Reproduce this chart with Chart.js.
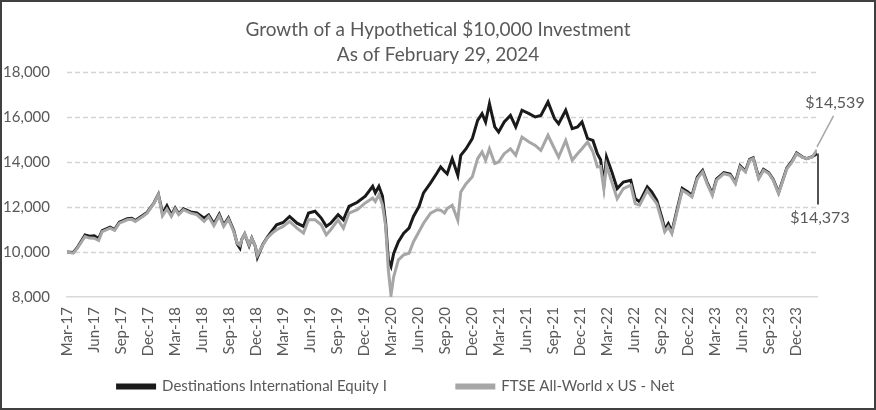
<!DOCTYPE html>
<html>
<head>
<meta charset="utf-8">
<script src="https://cdn.jsdelivr.net/npm/chart.js@4.4.1/dist/chart.umd.min.js"></script>
<style>
  html, body { margin: 0; padding: 0; background: #fff; }
  canvas { display: block; }
</style>
</head>
<body>
<canvas id="growthChart" width="876" height="410"></canvas>
<script>
// dates of the readings (axis starts at fund inception 2017-03-20)
const dates = [
  '2017-03-20','2017-04-10','2017-04-23','2017-05-20','2017-06-04','2017-06-20','2017-07-05','2017-07-17','2017-08-13','2017-08-28',
  '2017-09-13','2017-10-10','2017-10-25','2017-11-06','2017-12-01','2017-12-16','2018-01-09','2018-01-23','2018-01-31','2018-02-06',
  '2018-02-21','2018-03-08','2018-03-21','2018-04-02','2018-04-18','2018-05-12','2018-06-02','2018-06-27','2018-07-12','2018-07-30',
  '2018-08-17','2018-09-01','2018-09-17','2018-10-05','2018-10-17','2018-10-26','2018-11-01','2018-11-11','2018-11-26','2018-12-05',
  '2018-12-17','2018-12-24','2019-01-11','2019-01-26','2019-02-12','2019-02-27','2019-03-21','2019-04-12','2019-05-07','2019-05-29',
  '2019-06-15','2019-07-07','2019-07-28','2019-08-14','2019-08-29','2019-09-23','2019-10-11','2019-10-30','2019-11-27','2019-12-24',
  '2020-01-18','2020-01-27','2020-02-08','2020-02-20','2020-03-02','2020-03-11','2020-03-20','2020-03-29','2020-04-14','2020-05-02',
  '2020-05-20','2020-06-04','2020-06-23','2020-07-08','2020-08-01','2020-08-23','2020-09-04','2020-09-17','2020-09-26','2020-10-13',
  '2020-11-01','2020-11-11','2020-11-29','2020-12-20','2021-01-07','2021-01-22','2021-02-03','2021-02-16','2021-03-06','2021-03-19',
  '2021-04-07','2021-04-28','2021-05-16','2021-06-06','2021-06-30','2021-07-21','2021-08-09','2021-09-02','2021-09-24','2021-10-08',
  '2021-11-01','2021-11-23','2021-12-11','2021-12-26','2022-01-14','2022-02-01','2022-02-16','2022-02-27','2022-03-10','2022-03-19',
  '2022-04-06','2022-04-24','2022-05-15','2022-06-09','2022-06-24','2022-07-09','2022-08-04','2022-08-19','2022-09-05','2022-09-23',
  '2022-10-02','2022-10-14','2022-10-26','2022-11-14','2022-11-30','2022-12-18','2023-01-02','2023-01-20','2023-02-07','2023-02-22',
  '2023-03-12','2023-03-26','2023-04-20','2023-05-11','2023-05-29','2023-06-14','2023-07-02','2023-07-16','2023-07-28','2023-08-16',
  '2023-09-01','2023-09-19','2023-10-04','2023-10-22','2023-11-04','2023-11-19','2023-12-07','2023-12-22','2024-01-10','2024-01-25',
  '2024-02-13','2024-02-29'
];
// Destinations International Equity I
const fundValues = [
  10000,9980,10180,10760,10700,10720,10600,10950,11100,11000,
  11330,11480,11500,11400,11620,11760,12200,12560,12100,11700,
  12060,11650,11960,11700,11920,11780,11740,11500,11650,11250,
  11680,11200,11520,10960,10350,10170,10560,10800,10280,10620,
  10250,9760,10320,10640,10950,11210,11310,11580,11280,11140,
  11730,11810,11510,11140,11280,11660,11430,12030,12210,12480,
  12920,12630,12920,12480,11280,9650,9360,9940,10460,10840,
  11060,11580,12030,12630,13070,13520,13780,13590,13480,14150,
  13410,14300,14590,15040,15850,16150,15780,16590,15560,15330,
  15780,16070,15560,16300,16150,16000,16070,16670,15930,15700,
  16300,15480,15560,15780,15040,14960,14370,14100,13000,14220,
  13560,12820,13110,13190,12370,12230,12890,12670,12300,11490,
  11000,11260,10900,11950,12830,12680,12520,13320,13620,13100,
  12580,13240,13530,13460,13090,13830,13600,14120,14190,13300,
  13670,13520,13230,12640,13150,13740,14050,14400,14230,14150,
  14240,14373
];
// FTSE All-World x US - Net
const indexValues = [
  10000,9950,10150,10690,10620,10610,10510,10910,11060,10960,
  11280,11430,11450,11360,11580,11730,12180,12550,12030,11610,
  11910,11580,11910,11660,11880,11730,11660,11360,11580,11170,
  11610,11140,11460,10910,10390,10300,10540,10810,10320,10610,
  10250,9850,10300,10610,10840,10990,11140,11360,11060,10840,
  11430,11430,11210,10760,10990,11430,11060,11730,11880,12180,
  12400,12250,12550,12100,11140,9200,8080,8900,9650,9870,
  9940,10460,10910,11280,11730,11880,11860,11730,11930,12080,
  11410,12670,13040,13340,14150,14450,14080,14590,13930,14000,
  14370,14590,14300,15110,14890,14740,14520,15190,14590,14220,
  14960,14080,14370,14590,14890,14450,13780,13800,12800,13850,
  13110,12370,12820,12970,12150,12080,12740,12450,12150,11340,
  10900,11120,10820,11860,12740,12600,12450,13260,13560,13040,
  12520,13190,13480,13410,13040,13780,13560,14080,14150,13260,
  13630,13480,13190,12600,13110,13700,14000,14370,14220,14150,
  14220,14539
];
const tickLabels = [
  'Mar-17','Jun-17','Sep-17','Dec-17','Mar-18','Jun-18','Sep-18','Dec-18','Mar-19','Jun-19',
  'Sep-19','Dec-19','Mar-20','Jun-20','Sep-20','Dec-20','Mar-21','Jun-21','Sep-21','Dec-21',
  'Mar-22','Jun-22','Sep-22','Dec-22','Mar-23','Jun-23','Sep-23','Dec-23'
];
const startDate = '2017-03-20';
const endDate = '2024-02-29';

const months = {Jan:0,Feb:1,Mar:2,Apr:3,May:4,Jun:5,Jul:6,Aug:7,Sep:8,Oct:9,Nov:10,Dec:11};
function dayNum(iso){
  const p = iso.split('-').map(Number);
  return Date.UTC(p[0], p[1]-1, p[2]) / 86400000;
}
const day0 = dayNum(startDate);
function dayOf(iso){ return dayNum(iso) - day0; }
// tick label 'Mar-17' -> the 20th of that month (quarterly from inception)
function tickDay(lbl){
  const [m, y] = lbl.split('-');
  return Date.UTC(2000 + Number(y), months[m], 20) / 86400000 - day0;
}
const tickDays = tickLabels.map(tickDay);

const textGray = '#595959';
const fontFam = 'Lato, "Open Sans", sans-serif';

const frame = {
  id: 'frame',
  afterLayout(chart){
    // title centred on the whole canvas, legend row pulled up under the axis labels
    chart.titleBlock.right = chart.width;
    const lg = chart.legend;
    lg.top = chart.scales.x.bottom + 19 - lg.options.labels.padding;
    lg.bottom = chart.height;
    lg.right = chart.width - 84;
  },
  beforeDraw(chart){
    const c = chart.ctx;
    c.save();
    c.fillStyle = '#fff';
    c.fillRect(0, 0, chart.width, chart.height);
    c.restore();
  },
  afterDraw(chart){
    const c = chart.ctx;
    c.save();
    c.strokeStyle = '#404040';
    c.lineWidth = 2;
    c.strokeRect(1, 1, chart.width - 2, chart.height - 2);
    c.restore();
  }
};

// dashed horizontal gridlines from the y scale ticks
const dashedGrid = {
  id: 'dashedGrid',
  beforeDatasetsDraw(chart){
    const c = chart.ctx, y = chart.scales.y, a = chart.chartArea;
    c.save();
    c.strokeStyle = '#d4d4d4';
    c.lineWidth = 1.3;
    c.setLineDash([5, 3]);
    y.ticks.forEach(t => {
      if (t.value === y.min) return;
      const py = Math.round(y.getPixelForValue(t.value)) + 0.5;
      c.beginPath();
      c.moveTo(a.left, py);
      c.lineTo(a.right, py);
      c.stroke();
    });
    c.restore();
  }
};

// end value callouts
const endLabels = {
  id: 'endLabels',
  afterDatasetsDraw(chart){
    const c = chart.ctx;
    const fPt = chart.getDatasetMeta(0).data[fundValues.length - 1];
    const iPt = chart.getDatasetMeta(1).data[indexValues.length - 1];
    c.save();
    c.lineWidth = 1.5;
    c.strokeStyle = '#a6a6a6';
    c.beginPath();
    c.moveTo(iPt.x, iPt.y - 3);
    c.lineTo(iPt.x + 16.5, iPt.y - 34);
    c.stroke();
    c.strokeStyle = '#1a1a1a';
    c.beginPath();
    c.moveTo(fPt.x + 1, fPt.y);
    c.lineTo(fPt.x + 1, fPt.y + 51);
    c.stroke();
    c.fillStyle = textGray;
    c.font = '16px ' + fontFam;
    c.textAlign = 'center';
    c.textBaseline = 'middle';
    c.fillText('$' + indexValues[indexValues.length - 1].toLocaleString('en-US'), iPt.x + 18, iPt.y - 47);
    c.fillText('$' + fundValues[fundValues.length - 1].toLocaleString('en-US'), fPt.x + 3, fPt.y + 64);
    c.restore();
  }
};

const ctx = document.getElementById('growthChart').getContext('2d');
new Chart(ctx, {
  type: 'line',
  data: {
    datasets: [{
      label: 'Destinations International Equity I',
      data: dates.map((d, i) => ({x: dayOf(d), y: fundValues[i]})),
      borderColor: '#1a1a1a',
      backgroundColor: '#1a1a1a',
      borderWidth: 3,
      pointRadius: 0,
      tension: 0,
      order: 1
    }, {
      label: 'FTSE All-World x US - Net',
      data: dates.map((d, i) => ({x: dayOf(d), y: indexValues[i]})),
      borderColor: '#a6a6a6',
      backgroundColor: '#a6a6a6',
      borderWidth: 3,
      pointRadius: 0,
      tension: 0,
      order: 0
    }]
  },
  options: {
    responsive: false,
    animation: false,
    devicePixelRatio: 1,
    layout: { padding: { left: 0, right: 59, top: 0, bottom: 20 } },
    scales: {
      x: {
        type: 'linear',
        min: 0,
        max: dayOf(endDate),
        afterFit(scale){ scale.height = 63; },
        grid: { display: false, drawTicks: false },
        border: { display: true, color: '#d9d9d9', width: 1.5 },
        afterBuildTicks(scale){
          scale.ticks = tickDays.map(v => ({value: v}));
        },
        ticks: {
          autoSkip: false,
          minRotation: 90,
          maxRotation: 90,
          padding: 10,
          color: textGray,
          font: { family: fontFam, size: 15 },
          callback(value){
            const i = tickDays.indexOf(value);
            return i >= 0 ? tickLabels[i] : '';
          }
        }
      },
      y: {
        min: 8000,
        max: 18000,
        afterFit(scale){ scale.width = 67; },
        grid: { display: false, drawTicks: false },
        border: { display: false },
        ticks: {
          stepSize: 2000,
          padding: 17,
          color: textGray,
          font: { family: fontFam, size: 15 },
          callback: v => v.toLocaleString('en-US')
        }
      }
    },
    plugins: {
      title: {
        display: true,
        text: ['Growth of a Hypothetical $10,000 Investment', 'As of February 29, 2024'],
        color: textGray,
        font: { family: fontFam, size: 19, weight: 'normal', lineHeight: 1.29 },
        padding: { top: 18, bottom: 5 }
      },
      legend: {
        position: 'bottom',
        maxHeight: 30,
        labels: {
          color: textGray,
          font: { family: fontFam, size: 15 },
          boxWidth: 37,
          boxHeight: 3,
          padding: 70,
          sort: (a, b) => a.datasetIndex - b.datasetIndex
        }
      },
      tooltip: { enabled: false }
    }
  },
  plugins: [frame, dashedGrid, endLabels]
});
</script>
</body>
</html>
